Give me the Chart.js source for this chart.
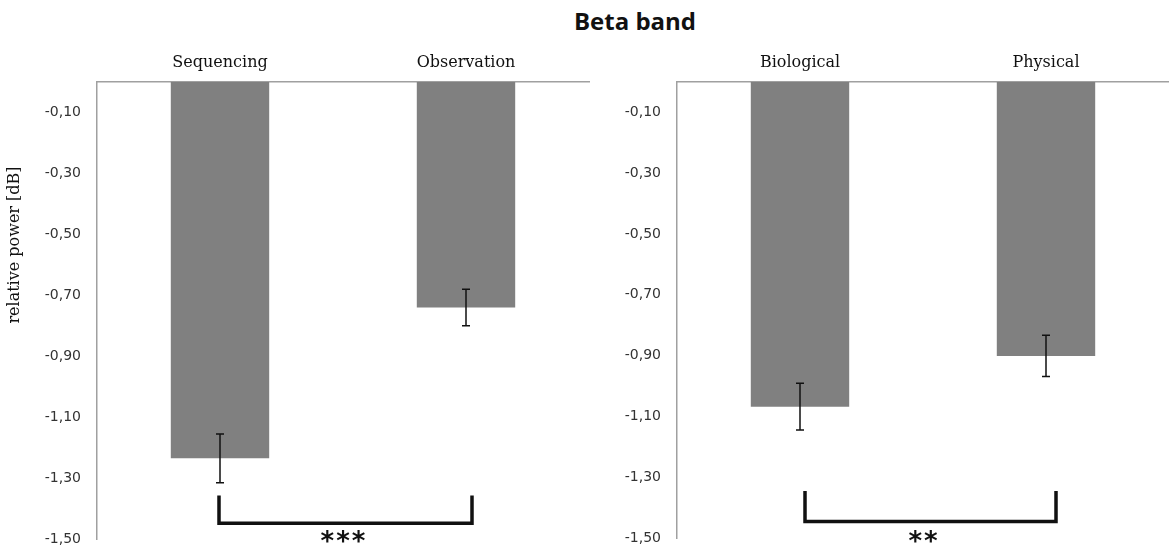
<!DOCTYPE html>
<html>
<head>
<meta charset="utf-8">
<script src="https://cdn.jsdelivr.net/npm/chart.js@4"></script>
<style>
  body { margin: 0; background: #fff; }
  #page { position: relative; width: 1169px; height: 550px; overflow: hidden; }
  #title { position: absolute; left: 0; width: 1270px; top: 4px; text-align: center;
           font: bold 24px "Open Sans", sans-serif; color: #111; }
  .panel { position: absolute; top: 0; height: 550px; }
</style>
</head>
<body>
<div id="page">
  <div id="title">Beta band</div>
  <div class="panel" style="left:0;width:590px"><canvas id="leftChart"></canvas></div>
  <div class="panel" style="left:590px;width:579px"><canvas id="rightChart"></canvas></div>
</div>
<script>
// values
const leftCategories = ['Sequencing', 'Observation'];
const leftValues = [-1.235, -0.740];
const leftErrors = [0.080, 0.060];
const leftBracket = [-1.357, -1.448];
const leftStars = '***';

const rightCategories = ['Biological', 'Physical'];
const rightValues = [-1.068, -0.901];
const rightErrors = [0.077, 0.068];
const rightBracket = [-1.345, -1.446];
const rightStars = '**';

const yTicks = [-0.1, -0.3, -0.5, -0.7, -0.9, -1.1, -1.3, -1.5];
const yTitle = 'relative power [dB]';

const axisGray = '#a0a0a0';

// error bars + significance bracket, positioned through the chart scales
const overlayPlugin = {
    id: 'overlay',
    afterDatasetsDraw(chart, args, opts) {
        const ctx = chart.ctx;
        const yScale = chart.scales.y;
        const xScale = chart.scales.x;
        const meta = chart.getDatasetMeta(0);
        const values = chart.data.datasets[0].data;

        ctx.save();
        ctx.strokeStyle = '#111';
        ctx.lineWidth = 1.5;
        values.forEach((v, i) => {
            const x = meta.data[i].x;
            const e = opts.errors[i];
            const yHi = yScale.getPixelForValue(v + e);
            const yLo = yScale.getPixelForValue(v - e);
            ctx.beginPath();
            ctx.moveTo(x, yHi); ctx.lineTo(x, yLo);
            ctx.moveTo(x - 4, yHi); ctx.lineTo(x + 4, yHi);
            ctx.moveTo(x - 4, yLo); ctx.lineTo(x + 4, yLo);
            ctx.stroke();
        });

        // bracket between the two bars
        const x0 = xScale.getPixelForValue(0) + opts.bracketShift[0];
        const x1 = xScale.getPixelForValue(1) + opts.bracketShift[1];
        const yTop = yScale.getPixelForValue(opts.bracket[0]);
        const yBot = yScale.getPixelForValue(opts.bracket[1]);
        ctx.lineWidth = 3.5;
        ctx.lineJoin = 'miter';
        ctx.beginPath();
        ctx.moveTo(x0, yTop); ctx.lineTo(x0, yBot); ctx.lineTo(x1, yBot); ctx.lineTo(x1, yTop);
        ctx.stroke();

        const mid = (xScale.getPixelForValue(0) + xScale.getPixelForValue(1)) / 2;
        ctx.fillStyle = '#111';
        ctx.font = 'bold 26px "DejaVu Sans"';
        ctx.textAlign = 'center';
        ctx.textBaseline = 'alphabetic';
        ctx.letterSpacing = '2px';
        ctx.fillText(opts.stars, mid + 1, 550);
        ctx.letterSpacing = '0px';

        if (opts.yTitle) {
            ctx.translate(15, 245);
            ctx.rotate(-Math.PI / 2);
            ctx.font = '16px "DejaVu Serif"';
            ctx.textBaseline = 'middle';
            ctx.fillText(opts.yTitle, 0, 0);
        }
        ctx.restore();
    }
};

function makePanel(id, categories, values, errors, bracket, stars, bracketShift, yWidth, pad, withTitle) {
    return new Chart(document.getElementById(id), {
        type: 'bar',
        data: {
            labels: categories,
            datasets: [{
                data: values,
                backgroundColor: '#808080',
                borderWidth: 0,
                barPercentage: 0.4,
                categoryPercentage: 1.0
            }]
        },
        options: {
            responsive: true,
            maintainAspectRatio: false,
            animation: false,
            layout: { padding: pad },
            plugins: {
                legend: { display: false },
                tooltip: { enabled: false },
                overlay: { errors, bracket, stars, bracketShift, yTitle: withTitle ? yTitle : null }
            },
            scales: {
                x: {
                    position: 'top',
                    grid: { display: false, drawTicks: false },
                    border: { display: true, color: axisGray, width: 1.5 },
                    ticks: { color: '#111', padding: 10, font: { family: 'DejaVu Serif', size: 16 } },
                    afterFit: (s) => { s.height = 82; }
                },
                y: {
                    min: -1.5,
                    max: 0,
                    grid: { display: false, drawTicks: false },
                    border: { display: true, color: axisGray, width: 1.5 },
                    ticks: {
                        color: '#333',
                        padding: 16,
                        font: { family: 'DejaVu Sans', size: 14 },
                        callback: (v) => v.toFixed(2).replace('.', ',')
                    },
                    afterBuildTicks: (s) => { s.ticks = yTicks.map(v => ({ value: v })); },
                    afterFit: (s) => { s.width = yWidth; s.paddingTop = 0; s.paddingBottom = 0; }
                }
            }
        },
        plugins: [overlayPlugin]
    });
}

makePanel('leftChart', leftCategories, leftValues, leftErrors, leftBracket, leftStars,
          [-1, 6], 97, { left: 0, right: 1, top: 0, bottom: 11 }, true);
makePanel('rightChart', rightCategories, rightValues, rightErrors, rightBracket, rightStars,
          [5, 10], 87, { left: 0, right: 0, top: 0, bottom: 12 }, false);
</script>
</body>
</html>
